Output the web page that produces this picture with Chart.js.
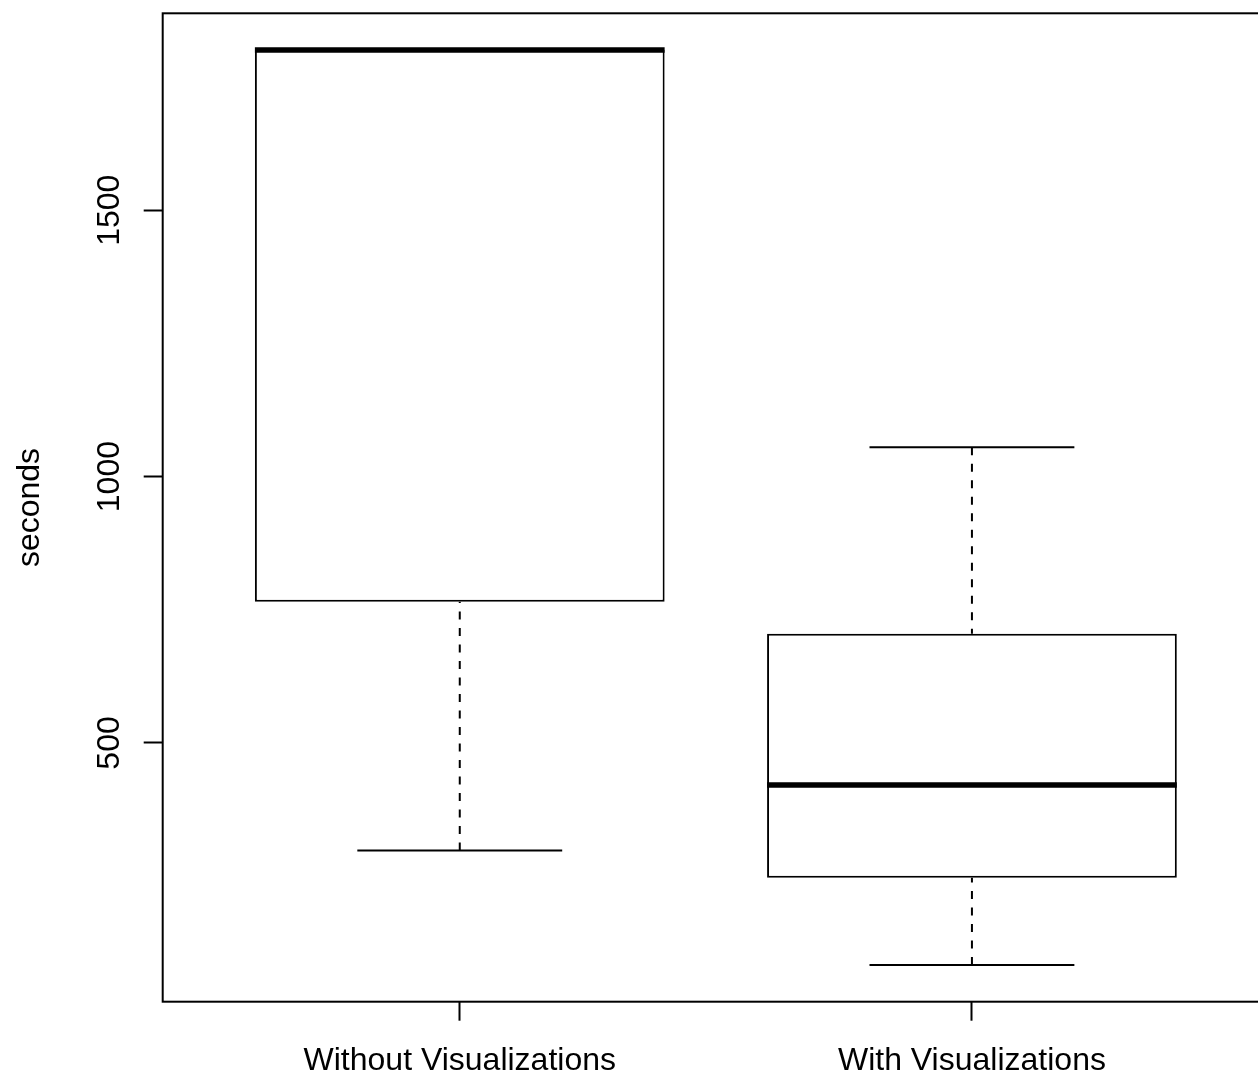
<!DOCTYPE html>
<html>
<head>
<meta charset="utf-8">
<title>seconds by condition</title>
<script src="https://cdn.jsdelivr.net/npm/chart.js@4/dist/chart.umd.min.js"></script>
<style>
  html, body { margin: 0; padding: 0; background: #ffffff; overflow: hidden; }
  #wrap { position: relative; width: 1300px; height: 1077px; }
</style>
</head>
<body>
<div id="wrap"><canvas id="chart"></canvas></div>
<script>
// Box-plot summaries per condition (seconds)
const groups       = ['Without Visualizations', 'With Visualizations'];
const whiskerLow   = [298, 83];
const quartile1    = [765, 247];
const medians      = [1801, 421];
const quartile3    = [1801, 705];
const whiskerHigh  = [1801, 1055];

// Value axis ticks
const yTickValues = [500, 1000, 1500];
const yTickLabels = ['500', '1000', '1500'];
const yTitle = 'seconds';

const FONT = '"Liberation Sans", Arial, Helvetica, sans-serif';
const FONT_SIZE = 32;

// Axis limits: data range padded by 4% on each side
const dataLo = Math.min(...whiskerLow);
const dataHi = Math.max(...whiskerHigh);
const pad = (dataHi - dataLo) * 0.04;
const yMin = dataLo - pad;
const yMax = dataHi + pad;
const xMin = 1 - 0.58;
const xMax = groups.length + 0.58;

const boxData = groups.map((g, i) => ({ x: i + 1, y: [quartile1[i], quartile3[i]] }));

// Whiskers, medians, frame and rotated value labels
const boxExtras = {
  id: 'boxExtras',
  afterDatasetsDraw(chart) {
    const ctx = chart.ctx;
    const xs = chart.scales.x;
    const ys = chart.scales.y;
    const meta = chart.getDatasetMeta(0);
    ctx.save();
    ctx.strokeStyle = '#000';
    ctx.lineCap = 'butt';
    groups.forEach((g, i) => {
      const bar = meta.data[i];
      const cx = xs.getPixelForValue(i + 1);
      const half = bar.width / 2;
      const capL = xs.getPixelForValue(i + 1 - 0.2);
      const capR = xs.getPixelForValue(i + 1 + 0.2);
      const pLow = ys.getPixelForValue(whiskerLow[i]);
      const pQ1 = ys.getPixelForValue(quartile1[i]);
      const pQ3 = ys.getPixelForValue(quartile3[i]);
      const pHigh = ys.getPixelForValue(whiskerHigh[i]);
      const pMed = ys.getPixelForValue(medians[i]);

      // dashed whisker stems, drawn from the cap towards the box
      ctx.lineWidth = 2;
      ctx.setLineDash([8, 8.5]);
      ctx.beginPath();
      if (pHigh < pQ3) { ctx.moveTo(cx, pHigh); ctx.lineTo(cx, pQ3); }
      if (pLow > pQ1) { ctx.moveTo(cx, pLow); ctx.lineTo(cx, pQ1); }
      ctx.stroke();

      // whisker caps
      ctx.setLineDash([]);
      ctx.beginPath();
      ctx.moveTo(capL, pHigh); ctx.lineTo(capR, pHigh);
      ctx.moveTo(capL, pLow); ctx.lineTo(capR, pLow);
      ctx.stroke();

      // median
      ctx.lineWidth = 5.5;
      ctx.beginPath();
      ctx.moveTo(cx - half, pMed);
      ctx.lineTo(cx + half, pMed);
      ctx.stroke();
    });
    ctx.restore();
  },
  afterDraw(chart) {
    const ctx = chart.ctx;
    const a = chart.chartArea;
    const ys = chart.scales.y;
    ctx.save();
    // plot frame
    ctx.strokeStyle = '#000';
    ctx.lineWidth = 2;
    ctx.setLineDash([]);
    ctx.strokeRect(a.left, a.top, a.right - a.left, a.bottom - a.top);

    // value labels, reading bottom to top
    ctx.fillStyle = '#000';
    ctx.font = FONT_SIZE + 'px ' + FONT;
    ctx.textAlign = 'center';
    ctx.textBaseline = 'alphabetic';
    const baseX = a.left - 19 - 25;
    yTickValues.forEach((v, i) => {
      const py = ys.getPixelForValue(v);
      ctx.save();
      ctx.translate(baseX, py);
      ctx.rotate(-Math.PI / 2);
      ctx.fillText(yTickLabels[i], 0, 0);
      ctx.restore();
    });
    ctx.restore();
  }
};

new Chart(document.getElementById('chart'), {
  type: 'bar',
  data: {
    datasets: [{
      data: boxData,
      backgroundColor: '#ffffff',
      borderColor: '#000000',
      borderWidth: 2,
      borderSkipped: false,
      barPercentage: 0.8,
      categoryPercentage: 1.0
    }]
  },
  options: {
    responsive: true,
    maintainAspectRatio: false,
    animation: false,
    layout: { padding: { top: 13.3, right: 31, bottom: 0, left: 0 } },
    plugins: {
      legend: { display: false },
      tooltip: { enabled: false },
      title: { display: false }
    },
    scales: {
      x: {
        type: 'linear',
        min: xMin,
        max: xMax,
        offset: false,
        afterBuildTicks(scale) {
          scale.ticks = groups.map((g, i) => ({ value: i + 1 }));
        },
        afterFit(scale) { scale.height = 75.3; },
        grid: {
          display: true,
          offset: false,
          drawOnChartArea: false,
          drawTicks: true,
          tickLength: 19,
          tickWidth: 2,
          tickColor: '#000',
          color: '#000'
        },
        border: { display: false },
        ticks: {
          autoSkip: false,
          maxRotation: 0,
          minRotation: 0,
          padding: 21,
          color: '#000',
          font: { family: FONT, size: FONT_SIZE },
          callback(value) {
            const idx = Math.round(value) - 1;
            return groups[idx] !== undefined ? groups[idx] : '';
          }
        }
      },
      y: {
        type: 'linear',
        min: yMin,
        max: yMax,
        afterBuildTicks(scale) {
          scale.ticks = yTickValues.map(v => ({ value: v }));
        },
        afterFit(scale) { scale.width = 162.7; },
        grid: {
          display: true,
          drawOnChartArea: false,
          drawTicks: true,
          tickLength: 19,
          tickWidth: 2,
          tickColor: '#000',
          color: '#000'
        },
        border: { display: false },
        ticks: { display: false },
        title: {
          display: true,
          text: yTitle,
          color: '#000',
          font: { family: FONT, size: FONT_SIZE },
          padding: { top: 11, bottom: 0 }
        }
      }
    }
  },
  plugins: [boxExtras]
});
</script>
</body>
</html>
